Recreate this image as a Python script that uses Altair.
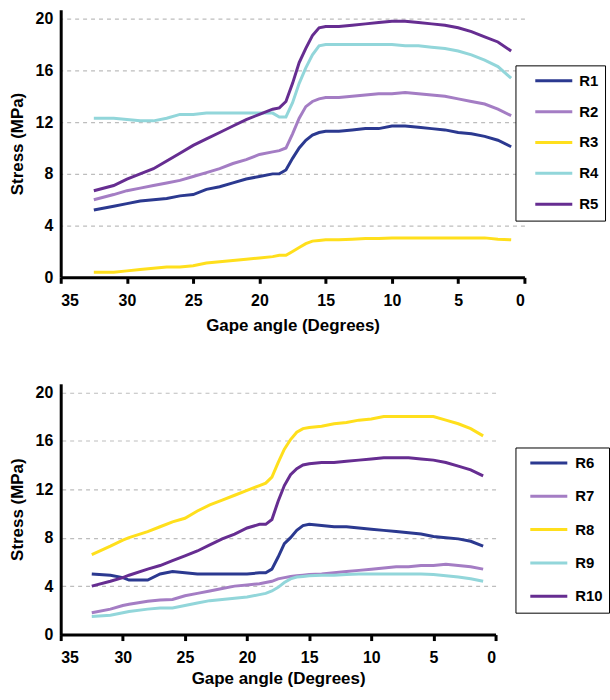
import altair as alt
import pandas as pd

# ---------------- data ----------------
angles_top = [32.5, 31, 30, 29, 28, 27, 26, 25, 24, 23, 22, 21, 20, 19, 18.5, 18, 17.5, 17,
              16.5, 16, 15.5, 15, 14, 13, 12, 11, 10, 9, 8, 7, 6, 5, 4, 3, 2, 1]
r1 = [5.2, 5.5, 5.7, 5.9, 6.0, 6.1, 6.3, 6.4, 6.8, 7.0, 7.3, 7.6, 7.8, 8.0, 8.0, 8.3, 9.2, 10.0,
      10.6, 11.0, 11.2, 11.3, 11.3, 11.4, 11.5, 11.5, 11.7, 11.7, 11.6, 11.5, 11.4, 11.2, 11.1, 10.9, 10.6, 10.1]
r2 = [6.0, 6.4, 6.7, 6.9, 7.1, 7.3, 7.5, 7.8, 8.1, 8.4, 8.8, 9.1, 9.5, 9.7, 9.8, 10.0, 11.1, 12.3,
      13.2, 13.6, 13.8, 13.9, 13.9, 14.0, 14.1, 14.2, 14.2, 14.3, 14.2, 14.1, 14.0, 13.8, 13.6, 13.4, 13.0, 12.5]
r3 = [0.4, 0.4, 0.5, 0.6, 0.7, 0.8, 0.8, 0.9, 1.1, 1.2, 1.3, 1.4, 1.5, 1.6, 1.7, 1.7, 2.0, 2.3,
      2.6, 2.8, 2.85, 2.9, 2.9, 2.95, 3.0, 3.0, 3.05, 3.05, 3.05, 3.05, 3.05, 3.05, 3.05, 3.05, 2.95, 2.9]
r4 = [12.3, 12.3, 12.2, 12.1, 12.1, 12.3, 12.6, 12.6, 12.7, 12.7, 12.7, 12.7, 12.7, 12.7, 12.4, 12.4, 13.5, 15.0,
      16.2, 17.2, 17.9, 18.0, 18.0, 18.0, 18.0, 18.0, 18.0, 17.9, 17.9, 17.8, 17.7, 17.5, 17.2, 16.8, 16.3, 15.4]
r5 = [6.7, 7.1, 7.6, 8.0, 8.4, 9.0, 9.6, 10.2, 10.7, 11.2, 11.7, 12.2, 12.6, 13.0, 13.1, 13.6, 15.0, 16.6,
      17.7, 18.7, 19.3, 19.4, 19.4, 19.5, 19.6, 19.7, 19.8, 19.8, 19.7, 19.6, 19.5, 19.3, 19.0, 18.6, 18.2, 17.5]

angles_bottom = [32.5, 31, 30, 29.5, 28, 27, 26, 25, 24, 23, 22, 21, 20, 19, 18.5, 18, 17.5, 17,
                 16.5, 16, 15.5, 15, 14, 13, 12, 11, 10, 9, 8, 7, 6, 5, 4, 3, 2, 1]
r6 = [5.0, 4.9, 4.7, 4.5, 4.5, 5.0, 5.2, 5.1, 5.0, 5.0, 5.0, 5.0, 5.0, 5.1, 5.1, 5.4, 6.4, 7.5,
      8.0, 8.6, 9.0, 9.1, 9.0, 8.9, 8.9, 8.8, 8.7, 8.6, 8.5, 8.4, 8.3, 8.1, 8.0, 7.9, 7.7, 7.3]
r7 = [1.8, 2.1, 2.4, 2.5, 2.75, 2.85, 2.9, 3.2, 3.4, 3.6, 3.8, 4.0, 4.1, 4.2, 4.3, 4.4, 4.6, 4.7,
      4.8, 4.85, 4.9, 4.95, 5.0, 5.1, 5.2, 5.3, 5.4, 5.5, 5.6, 5.6, 5.7, 5.7, 5.8, 5.7, 5.6, 5.4]
r8 = [6.6, 7.3, 7.8, 8.0, 8.5, 8.9, 9.3, 9.6, 10.2, 10.7, 11.1, 11.5, 11.9, 12.3, 12.5, 13.0, 14.2, 15.3,
      16.1, 16.7, 17.0, 17.1, 17.2, 17.4, 17.5, 17.7, 17.8, 18.0, 18.0, 18.0, 18.0, 18.0, 17.7, 17.4, 17.0, 16.4]
r9 = [1.5, 1.6, 1.8, 1.9, 2.1, 2.2, 2.2, 2.4, 2.6, 2.8, 2.9, 3.0, 3.1, 3.3, 3.4, 3.6, 3.9, 4.3,
      4.6, 4.75, 4.8, 4.85, 4.9, 4.9, 4.95, 5.0, 5.0, 5.0, 5.0, 5.0, 5.0, 4.95, 4.85, 4.75, 4.6, 4.4]
r10 = [4.0, 4.4, 4.7, 4.9, 5.4, 5.7, 6.1, 6.5, 6.9, 7.4, 7.9, 8.3, 8.8, 9.1, 9.1, 9.5, 11.0, 12.3,
       13.2, 13.7, 14.0, 14.1, 14.2, 14.2, 14.3, 14.4, 14.5, 14.6, 14.6, 14.6, 14.5, 14.4, 14.2, 13.9, 13.6, 13.1]

top_names = ["R1", "R2", "R3", "R4", "R5"]
bottom_names = ["R6", "R7", "R8", "R9", "R10"]
colors = ["#2b3990", "#a47dc4", "#ffdf1c", "#92d6da", "#662d91"]

y_ticks = [0, 4, 8, 12, 16, 20]
x_ticks = [35, 30, 25, 20, 15, 10, 5, 0]


def long_table(angles, series, names):
    rows = []
    for name, vals in zip(names, series):
        for a, v in zip(angles, vals):
            rows.append({"angle": a, "stress": v, "series": name})
    return pd.DataFrame(rows)


df_top = long_table(angles_top, [r1, r2, r3, r4, r5], top_names)
df_bottom = long_table(angles_bottom, [r6, r7, r8, r9, r10], bottom_names)

FONT = "Liberation Sans"
# horizontal stroke for the legend, plus two zero-length (invisible) points that
# give every legend entry some vertical room
LINE_SYMBOL = "M-2.4,0H2.4M0,-0.5V-0.5M0,0.5V0.5"


def panel(df, names, w, h, lx, ly, sym_off, lab_off, row_pad, title_pad):
    return alt.Chart(df).mark_line(strokeWidth=3).encode(
        x=alt.X("angle:Q",
                scale=alt.Scale(domain=[0, 35], reverse=True, nice=False, zero=False),
                axis=alt.Axis(values=x_ticks, title="Gape angle (Degrees)", grid=False,
                              ticks=True, tickSize=6, tickWidth=3, tickColor="black",
                              labelPadding=9, titlePadding=title_pad, format="d")),
        y=alt.Y("stress:Q",
                scale=alt.Scale(domain=[0, 20.7], nice=False),
                axis=alt.Axis(values=y_ticks, title="Stress (MPa)", grid=True, ticks=False,
                              gridDash=[4, 4], gridColor="#bdbdbd", gridWidth=1.2,
                              labelPadding=8, titlePadding=9, format="d")),
        color=alt.Color("series:N",
                        scale=alt.Scale(domain=names, range=colors),
                        legend=alt.Legend(title=None, orient="none", legendX=lx, legendY=ly,
                                          symbolType=LINE_SYMBOL, symbolSize=240,
                                          symbolStrokeWidth=3, padding=6, symbolOffset=sym_off,
                                          labelOffset=lab_off, rowPadding=row_pad,
                                          strokeColor="black", fillColor="white",
                                          labelFont=FONT, labelFontSize=15,
                                          labelFontWeight="bold", labelColor="black")),
        order=alt.Order("angle:Q", sort="descending"),
    ).properties(width=w, height=h)


top = panel(df_top, top_names, 466, 269, 457, 56, 23, 16, 10, 9)
bottom = panel(df_bottom, bottom_names, 437, 252, 457, 64, 18, 17, 12.5, 5)

chart = alt.vconcat(top, bottom, spacing=51).resolve_scale(color="independent").resolve_legend(
    color="independent"
).properties(
    padding={"left": 8, "top": 8, "right": 0, "bottom": 0}
).configure_view(stroke=None).configure_axis(
    domainColor="black", domainWidth=3,
    labelFont=FONT, labelFontSize=16, labelFontWeight="bold", labelColor="black",
    titleFont=FONT, titleFontSize=17, titleFontWeight="bold", titleColor="black",
)

chart.save("out.html", embed_options={"renderer": "svg", "actions": False})
